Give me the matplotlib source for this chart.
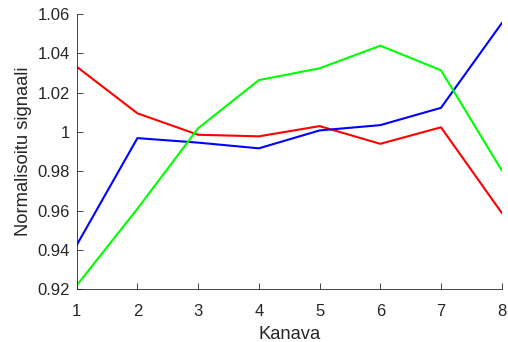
import matplotlib
matplotlib.use('Agg')
import matplotlib.pyplot as plt
from matplotlib.ticker import FuncFormatter

kanava = [1, 2, 3, 4, 5, 6, 7, 8]
punainen = [1.0332, 1.0095, 0.9986, 0.9978, 1.0030, 0.9940, 1.0024, 0.9589]
sininen = [0.9425, 0.9969, 0.9946, 0.9917, 1.0008, 1.0035, 1.0123, 1.0553]
vihrea = [0.9220, 0.9610, 1.0019, 1.0264, 1.0324, 1.0439, 1.0314, 0.9805]
yticks = [0.92, 0.94, 0.96, 0.98, 1.0, 1.02, 1.04, 1.06]

plt.rcParams['font.family'] = ['Liberation Sans', 'DejaVu Sans']
harmaa = '#262626'

fig = plt.figure(figsize=(5.08, 3.42), dpi=100)
ax = fig.add_axes([0.151, 0.154, 0.8366, 0.805])

ax.plot(kanava, punainen, color='#ff0000', lw=1.5)
ax.plot(kanava, sininen, color='#0000ff', lw=1.5)
ax.plot(kanava, vihrea, color='#00ff00', lw=1.5)

ax.set_xlim(1, 8)
ax.set_ylim(0.92, 1.06)
ax.set_xticks(kanava)
ax.set_yticks(yticks)
ax.yaxis.set_major_formatter(FuncFormatter(lambda v, p: '%g' % round(v, 2)))

for s in ['top', 'right']:
    ax.spines[s].set_visible(False)
for s in ['left', 'bottom']:
    ax.spines[s].set_color(harmaa)
    ax.spines[s].set_linewidth(0.6)
ax.tick_params(direction='in', length=4, width=0.6, colors=harmaa, labelsize=12)
ax.tick_params(axis='x', pad=10.5)
ax.tick_params(axis='y', pad=5)

ax.set_xlabel('Kanava', fontsize=13.2, color=harmaa, labelpad=5)
ax.set_ylabel('Normalisoitu signaali', fontsize=13.2, color=harmaa, labelpad=4)

fig.savefig('out.png', dpi=100)
